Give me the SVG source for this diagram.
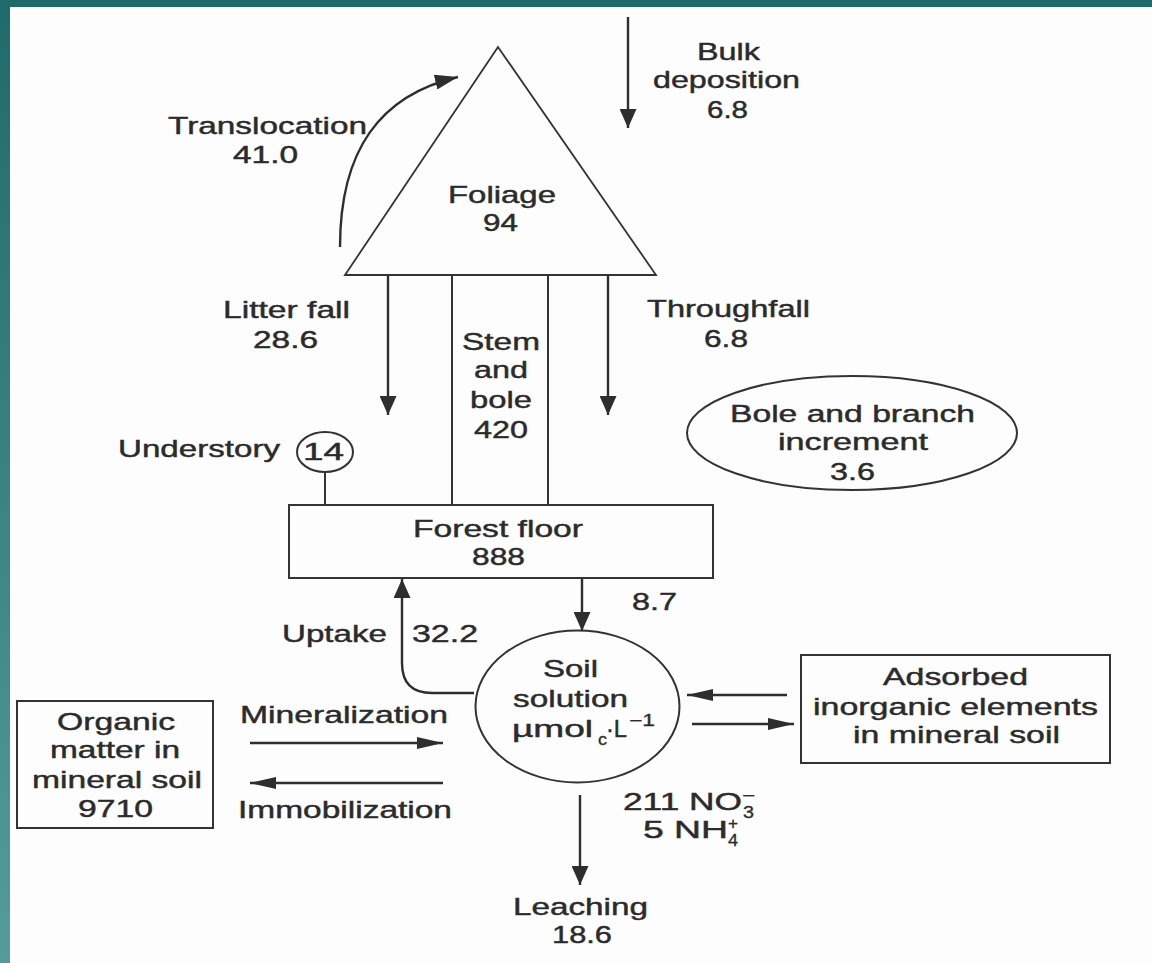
<svg xmlns="http://www.w3.org/2000/svg" width="1152" height="963" viewBox="0 0 1152 963">
<defs>
<linearGradient id="side" x1="0" y1="0" x2="0" y2="1">
<stop offset="0" stop-color="#1f6a6a"/>
<stop offset="1" stop-color="#559b9b"/>
</linearGradient>
<marker id="mV" markerUnits="userSpaceOnUse" markerWidth="19" markerHeight="17" refX="19" refY="8.5" orient="auto"><path d="M0,0 L19,8.5 L0,17 z" fill="#2e2e2e"/></marker>
<marker id="mH" markerUnits="userSpaceOnUse" markerWidth="26" markerHeight="12" refX="26" refY="6" orient="auto"><path d="M0,0 L26,6 L0,12 z" fill="#2e2e2e"/></marker>
<marker id="mD" markerUnits="userSpaceOnUse" markerWidth="23" markerHeight="15" refX="23" refY="7.5" orient="auto"><path d="M0,0 L23,7.5 L0,15 z" fill="#2e2e2e"/></marker>
</defs>
<style>
.t{font-family:"Liberation Sans",Arial,Helvetica,sans-serif;font-size:24.5px;fill:#2b2b2b;stroke:#2b2b2b;stroke-width:0.45}
.s{font-family:"Liberation Sans",Arial,Helvetica,sans-serif;font-size:16px;fill:#2b2b2b;stroke:#2b2b2b;stroke-width:0.3}
.box{fill:none;stroke:#333;stroke-width:2}
.ar{fill:none;stroke:#2e2e2e;stroke-width:2.4}
.v{marker-end:url(#mV)}
.h{marker-end:url(#mH)}
</style>
<rect x="0" y="0" width="1152" height="963" fill="#fdfdfd"/>
<rect x="0" y="0" width="10" height="963" fill="url(#side)"/>
<rect x="0" y="0" width="1152" height="7" fill="#1f6a6a"/>

<g id="connectors">
<path class="ar" d="M340,247 C340,150 380,95 458,77" marker-end="url(#mD)"/>
<line class="ar v" x1="628" y1="17" x2="628" y2="128"/>
<line class="ar v" x1="388" y1="275" x2="388" y2="415"/>
<line class="ar v" x1="608" y1="275" x2="608" y2="415"/>
<line class="box" x1="325" y1="472" x2="325" y2="505"/>
<line class="ar v" x1="582" y1="578" x2="582" y2="631"/>
<path class="ar v" d="M474,693 L432,693 Q402,693 402,663 L402,579"/>
<line class="ar h" x1="250" y1="743" x2="443" y2="743"/>
<line class="ar h" x1="443" y1="783" x2="250" y2="783"/>
<line class="ar h" x1="787" y1="695" x2="687" y2="695"/>
<line class="ar h" x1="692" y1="724" x2="794" y2="724"/>
<line class="ar v" x1="580" y1="795" x2="580" y2="885"/>
</g>

<g id="labels">
<text class="t" x="168" y="134" textLength="199" lengthAdjust="spacingAndGlyphs">Translocation</text>
<text class="t" x="233" y="163" textLength="65" lengthAdjust="spacingAndGlyphs">41.0</text>
<text class="t" x="697" y="60" textLength="63" lengthAdjust="spacingAndGlyphs">Bulk</text>
<text class="t" x="653" y="88" textLength="147" lengthAdjust="spacingAndGlyphs">deposition</text>
<text class="t" x="707" y="118" textLength="41" lengthAdjust="spacingAndGlyphs">6.8</text>
<text class="t" x="223" y="318" textLength="127" lengthAdjust="spacingAndGlyphs">Litter fall</text>
<text class="t" x="253" y="348" textLength="65" lengthAdjust="spacingAndGlyphs">28.6</text>
<text class="t" x="647" y="317" textLength="163" lengthAdjust="spacingAndGlyphs">Throughfall</text>
<text class="t" x="704" y="347" textLength="44" lengthAdjust="spacingAndGlyphs">6.8</text>
<text class="t" x="282" y="642" textLength="105" lengthAdjust="spacingAndGlyphs">Uptake</text>
<text class="t" x="412" y="642" textLength="66" lengthAdjust="spacingAndGlyphs">32.2</text>
<text class="t" x="632" y="610" textLength="45" lengthAdjust="spacingAndGlyphs">8.7</text>
<text class="t" x="240" y="723" textLength="208" lengthAdjust="spacingAndGlyphs">Mineralization</text>
<text class="t" x="238" y="818" textLength="214" lengthAdjust="spacingAndGlyphs">Immobilization</text>
<text class="t" x="623" y="810" textLength="119" lengthAdjust="spacingAndGlyphs">211 NO</text>
<text class="s" x="743" y="818" textLength="11" lengthAdjust="spacingAndGlyphs">3</text>
<text class="s" x="742" y="801" textLength="13" lengthAdjust="spacingAndGlyphs">−</text>
<text class="t" x="643" y="838" textLength="85" lengthAdjust="spacingAndGlyphs">5 NH</text>
<text class="s" x="728" y="829" textLength="10" lengthAdjust="spacingAndGlyphs">+</text>
<text class="s" x="728" y="846" textLength="10" lengthAdjust="spacingAndGlyphs">4</text>
<text class="t" x="513" y="915" textLength="135" lengthAdjust="spacingAndGlyphs">Leaching</text>
<text class="t" x="552" y="943" textLength="60" lengthAdjust="spacingAndGlyphs">18.6</text>
</g>

<g id="foliage">
<polygon points="498,47 345,275 656,275" fill="none" stroke="#333" stroke-width="1.8"/>
<text class="t" x="448" y="203" textLength="108" lengthAdjust="spacingAndGlyphs">Foliage</text>
<text class="t" x="483" y="231" textLength="35" lengthAdjust="spacingAndGlyphs">94</text>
</g>

<g id="stem">
<rect class="box" x="452" y="275" width="96" height="230"/>
<text class="t" x="462" y="350" textLength="78" lengthAdjust="spacingAndGlyphs">Stem</text>
<text class="t" x="474" y="378" textLength="54" lengthAdjust="spacingAndGlyphs">and</text>
<text class="t" x="470" y="408" textLength="62" lengthAdjust="spacingAndGlyphs">bole</text>
<text class="t" x="474" y="438" textLength="54" lengthAdjust="spacingAndGlyphs">420</text>
</g>

<g id="bole-increment">
<ellipse class="box" cx="852" cy="433" rx="165" ry="57"/>
<text class="t" x="730" y="422" textLength="245" lengthAdjust="spacingAndGlyphs">Bole and branch</text>
<text class="t" x="778" y="450" textLength="150" lengthAdjust="spacingAndGlyphs">increment</text>
<text class="t" x="830" y="480" textLength="45" lengthAdjust="spacingAndGlyphs">3.6</text>
</g>

<g id="understory">
<ellipse class="box" cx="325" cy="452" rx="28" ry="20"/>
<text class="t" x="118" y="457" textLength="162" lengthAdjust="spacingAndGlyphs">Understory</text>
<text class="t" x="303" y="460" textLength="41" lengthAdjust="spacingAndGlyphs">14</text>
</g>

<g id="forest-floor">
<rect class="box" x="289" y="505" width="424" height="73"/>
<text class="t" x="413" y="537" textLength="170" lengthAdjust="spacingAndGlyphs">Forest floor</text>
<text class="t" x="472" y="565" textLength="53" lengthAdjust="spacingAndGlyphs">888</text>
</g>

<g id="soil-solution">
<ellipse class="box" cx="577.5" cy="706.5" rx="102" ry="76"/>
<text class="t" x="543" y="677" textLength="55" lengthAdjust="spacingAndGlyphs">Soil</text>
<text class="t" x="513" y="707" textLength="115" lengthAdjust="spacingAndGlyphs">solution</text>
<text class="t" x="512" y="737" textLength="81" lengthAdjust="spacingAndGlyphs">µmol</text>
<text class="s" x="598" y="745" textLength="9" lengthAdjust="spacingAndGlyphs">c</text>
<text class="t" x="606" y="737" textLength="21" lengthAdjust="spacingAndGlyphs">·L</text>
<text class="s" x="629" y="726" textLength="26" lengthAdjust="spacingAndGlyphs">−1</text>
</g>

<g id="organic-matter">
<rect class="box" x="17" y="701" width="196" height="127"/>
<text class="t" x="57" y="730" textLength="118" lengthAdjust="spacingAndGlyphs">Organic</text>
<text class="t" x="50" y="758" textLength="130" lengthAdjust="spacingAndGlyphs">matter in</text>
<text class="t" x="32" y="788" textLength="170" lengthAdjust="spacingAndGlyphs">mineral soil</text>
<text class="t" x="78" y="817" textLength="75" lengthAdjust="spacingAndGlyphs">9710</text>
</g>

<g id="adsorbed">
<rect class="box" x="801" y="655" width="309" height="108"/>
<text class="t" x="883" y="685" textLength="145" lengthAdjust="spacingAndGlyphs">Adsorbed</text>
<text class="t" x="813" y="715" textLength="285" lengthAdjust="spacingAndGlyphs">inorganic elements</text>
<text class="t" x="853" y="743" textLength="207" lengthAdjust="spacingAndGlyphs">in mineral soil</text>
</g>
</svg>
